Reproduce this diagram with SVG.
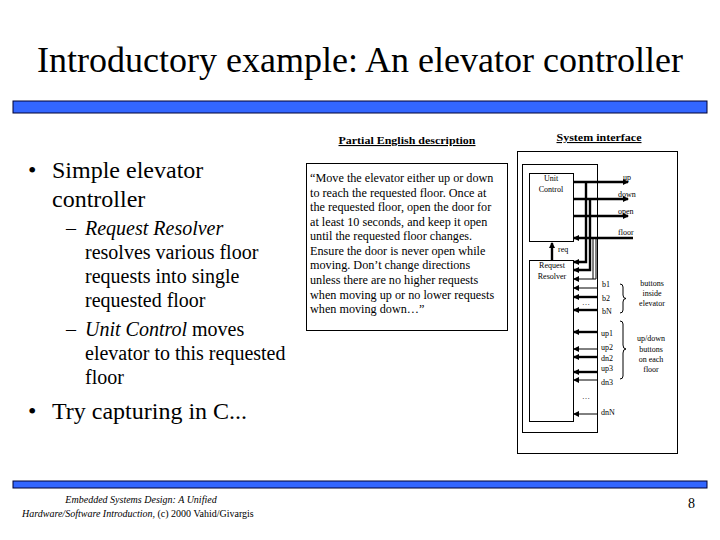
<svg xmlns="http://www.w3.org/2000/svg" width="720" height="540" viewBox="0 0 720 540">
  <style>
    .serif { font-family: "Liberation Serif", "Times New Roman", serif; fill: #000; }
    .title { font-size: 36px; }
    .big { font-size: 24px; }
    .mid { font-size: 20px; }
    .desc { font-size: 12.2px; }
    .hdr { font-size: 11px; font-weight: bold; text-decoration: underline; }
    .lbl { font-size: 8px; }
    .foot { font-size: 10px; }
    .box { fill: none; stroke: #000; stroke-width: 1; }
    .thick { stroke: #000; stroke-width: 2.4; fill: none; }
    .thin { stroke: #000; stroke-width: 1; fill: none; }
    .bar { fill: #3366FF; stroke: #000033; stroke-width: 1; }
  </style>
  <defs>
    <marker id="arr" markerUnits="userSpaceOnUse" markerWidth="6" markerHeight="6" refX="5" refY="3" orient="auto">
      <path d="M0,0 L6,3 L0,6 z" fill="#000"/>
    </marker>
  </defs>
  <rect x="0" y="0" width="720" height="540" fill="#fff"/>

  <g id="title">
    <text class="serif title" x="360" y="72" text-anchor="middle">Introductory example: An elevator controller</text>
    <rect class="bar" x="13" y="101" width="694" height="12"/>
  </g>

  <g id="bullets">
    <text class="serif big" x="28" y="178">•</text>
    <text class="serif big" x="52" y="178">Simple elevator</text>
    <text class="serif big" x="52" y="207">controller</text>
    <text class="serif mid" x="66" y="235">–</text>
    <text class="serif mid" x="85" y="235" font-style="italic">Request Resolver</text>
    <text class="serif mid" x="85" y="259">resolves various floor</text>
    <text class="serif mid" x="85" y="283">requests into single</text>
    <text class="serif mid" x="85" y="307">requested floor</text>
    <text class="serif mid" x="66" y="336">–</text>
    <text class="serif mid" x="85" y="336"><tspan font-style="italic">Unit Control</tspan> moves</text>
    <text class="serif mid" x="85" y="360">elevator to this requested</text>
    <text class="serif mid" x="85" y="384">floor</text>
    <text class="serif big" x="28" y="419">•</text>
    <text class="serif big" x="52" y="419">Try capturing in C...</text>
  </g>

  <g id="description">
    <text class="serif hdr" x="407" y="144" text-anchor="middle" textLength="137" lengthAdjust="spacingAndGlyphs">Partial English description</text>
    <rect class="box" x="306.5" y="163.5" width="201" height="167"/>
    <text class="serif desc" x="310" y="182">“Move the elevator either up or down</text>
    <text class="serif desc" x="310" y="196.6">to reach the requested floor. Once at</text>
    <text class="serif desc" x="310" y="211.1">the requested floor, open the door for</text>
    <text class="serif desc" x="310" y="225.7">at least 10 seconds, and keep it open</text>
    <text class="serif desc" x="310" y="240.2">until the requested floor changes.</text>
    <text class="serif desc" x="310" y="254.8">Ensure the door is never open while</text>
    <text class="serif desc" x="310" y="269.4">moving. Don’t change directions</text>
    <text class="serif desc" x="310" y="283.9">unless there are no higher requests</text>
    <text class="serif desc" x="310" y="298.5">when moving up or no lower requests</text>
    <text class="serif desc" x="310" y="313">when moving down…”</text>
  </g>

  <g id="system-interface">
    <text class="serif hdr" x="599" y="141" text-anchor="middle" textLength="85" lengthAdjust="spacingAndGlyphs">System interface</text>
    <rect class="box" x="517.5" y="151.5" width="160" height="302"/>
    <rect class="box" x="522.5" y="164.5" width="75" height="268"/>
  </g>

  <g id="unit-control">
    <rect class="box" x="529.5" y="173.5" width="44" height="68"/>
    <text class="serif lbl" x="551" y="181" text-anchor="middle">Unit</text>
    <text class="serif lbl" x="551" y="192" text-anchor="middle">Control</text>
  </g>

  <g id="request-resolver">
    <rect class="box" x="529.5" y="260.5" width="44" height="161"/>
    <text class="serif lbl" x="552" y="268" text-anchor="middle">Request</text>
    <text class="serif lbl" x="552" y="279" text-anchor="middle">Resolver</text>
  </g>

  <g id="connectors">
    <!-- req -->
    <line class="thick" x1="552" y1="260" x2="552" y2="243" marker-end="url(#arr)"/>
    <!-- outputs of Unit Control -->
    <line class="thick" x1="574" y1="182" x2="628" y2="182" marker-end="url(#arr)"/>
    <line class="thick" x1="574" y1="199" x2="628" y2="199" marker-end="url(#arr)"/>
    <line class="thick" x1="574" y1="216" x2="628" y2="216" marker-end="url(#arr)"/>
    <line class="thick" x1="633" y1="238" x2="574" y2="238" marker-end="url(#arr)"/>
    <!-- feedback into Request Resolver -->
    <polyline class="thick" points="586,182 586,262 574,262" marker-end="url(#arr)"/>
    <polyline class="thick" points="590,199 590,270 574,270" marker-end="url(#arr)"/>
    <polyline class="thin" points="593,238 593,279"/>
    <polyline class="thin" points="596,238 596,279 574,279" marker-end="url(#arr)"/>
    <!-- button inputs -->
    <line class="thin" x1="598" y1="288" x2="574" y2="288" marker-end="url(#arr)"/>
    <line class="thick" x1="598" y1="297" x2="574" y2="297" marker-end="url(#arr)"/>
    <line class="thick" x1="598" y1="310" x2="574" y2="310" marker-end="url(#arr)"/>
    <line class="thick" x1="598" y1="332" x2="574" y2="332" marker-end="url(#arr)"/>
    <line class="thin" x1="598" y1="349" x2="574" y2="349" marker-end="url(#arr)"/>
    <line class="thick" x1="598" y1="357" x2="574" y2="357" marker-end="url(#arr)"/>
    <line class="thick" x1="598" y1="372" x2="574" y2="372" marker-end="url(#arr)"/>
    <line class="thin" x1="598" y1="380" x2="574" y2="380" marker-end="url(#arr)"/>
    <line class="thin" x1="598" y1="414" x2="574" y2="414" marker-end="url(#arr)"/>
  </g>

  <g id="signal-labels">
    <text class="serif lbl" x="558" y="252">req</text>
    <text class="serif lbl" x="623" y="180">up</text>
    <text class="serif lbl" x="618" y="197">down</text>
    <text class="serif lbl" x="618" y="214">open</text>
    <text class="serif lbl" x="618" y="235">floor</text>
    <text class="serif lbl" x="602" y="287">b1</text>
    <text class="serif lbl" x="602" y="301">b2</text>
    <text class="serif lbl" x="582" y="305">…</text>
    <text class="serif lbl" x="602" y="314">bN</text>
    <text class="serif lbl" x="601" y="336">up1</text>
    <text class="serif lbl" x="601" y="350">up2</text>
    <text class="serif lbl" x="601" y="361">dn2</text>
    <text class="serif lbl" x="601" y="371">up3</text>
    <text class="serif lbl" x="601" y="385">dn3</text>
    <text class="serif lbl" x="582" y="399">…</text>
    <text class="serif lbl" x="601" y="415">dnN</text>
  </g>

  <g id="braces">
    <path class="thin" d="M620,284 Q623,284 623,287 V295 Q623,298.5 626,298.5 Q623,298.5 623,302 V310 Q623,313 620,313"/>
    <path class="thin" d="M620,321 Q623,321 623,324 V345 Q623,349 626,349 Q623,349 623,353 V376 Q623,379 620,379"/>
    <text class="serif lbl" x="652" y="286" text-anchor="middle">buttons</text>
    <text class="serif lbl" x="652" y="296" text-anchor="middle">inside</text>
    <text class="serif lbl" x="652" y="306" text-anchor="middle">elevator</text>
    <text class="serif lbl" x="651" y="341" text-anchor="middle">up/down</text>
    <text class="serif lbl" x="651" y="352" text-anchor="middle">buttons</text>
    <text class="serif lbl" x="651" y="362" text-anchor="middle">on each</text>
    <text class="serif lbl" x="651" y="372" text-anchor="middle">floor</text>
  </g>

  <g id="footer">
    <rect class="bar" x="13" y="481" width="694" height="7"/>
    <text class="serif foot" x="141" y="503" text-anchor="middle" font-style="italic">Embedded Systems Design: A Unified</text>
    <text class="serif foot" x="22" y="517"><tspan font-style="italic">Hardware/Software Introduction,</tspan> (c) 2000 Vahid/Givargis</text>
    <text class="serif" x="688" y="508" font-size="14">8</text>
  </g>
</svg>
